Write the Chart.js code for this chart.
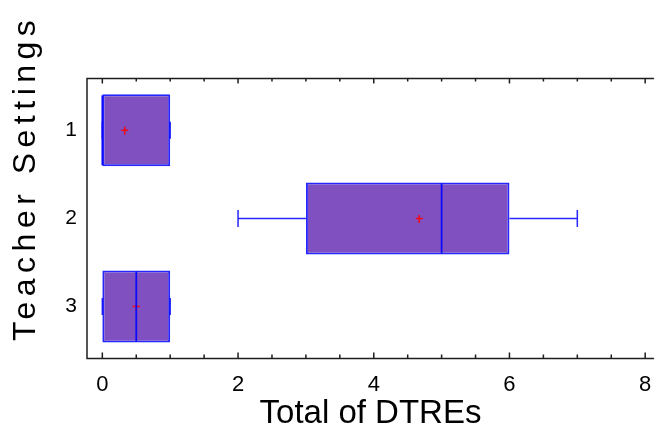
<!DOCTYPE html>
<html lang="en">
<head>
    <meta charset="UTF-8">
    <title>Total of DTREs by Teacher Settings</title>
    <script src="https://cdn.jsdelivr.net/npm/chart.js"></script>
    <style>
        body { margin: 0; background: #fff; overflow: hidden; }
        #wrap { width: 654px; height: 430px; }
    </style>
</head>
<body>
    <div id="wrap">
        <canvas id="boxChart"></canvas>
    </div>
    <script>
        // five-number summary + mean for each teacher setting
        const settings = [1, 2, 3];
        const whiskerLow = [0, 2, 0];
        const q1 = [0, 3, 0];
        const medians = [0, 5, 0.5];
        const q3 = [1, 6, 1];
        const whiskerHigh = [1, 7, 1];
        const means = [0.33, 4.67, 0.5];
        const xTicks = [0, 2, 4, 6, 8];

        const FONT = '"Liberation Sans", Arial, sans-serif';
        const BOX_FILL = '#8050c0';
        const BOX_LINE = 'rgba(0, 0, 255, 0.85)';

        // whiskers, means, medians, frame with inward ticks, spaced y title
        const boxExtras = {
            id: 'boxExtras',
            afterDatasetsDraw(chart) {
                const { ctx, chartArea: area, scales: { x, y } } = chart;
                const boxHalf = chart.getDatasetMeta(0).data[0].height / 2 - 1;
                ctx.save();

                ctx.strokeStyle = BOX_LINE;
                ctx.lineWidth = 1.5;
                settings.forEach((s, i) => {
                    const cy = y.getPixelForValue(s);
                    const lo = x.getPixelForValue(whiskerLow[i]);
                    const hi = x.getPixelForValue(whiskerHigh[i]);
                    ctx.beginPath();
                    ctx.moveTo(lo, cy);
                    ctx.lineTo(x.getPixelForValue(q1[i]), cy);
                    ctx.moveTo(x.getPixelForValue(q3[i]), cy);
                    ctx.lineTo(hi, cy);
                    ctx.moveTo(lo, cy - 8.5);
                    ctx.lineTo(lo, cy + 8.5);
                    ctx.moveTo(hi, cy - 8.5);
                    ctx.lineTo(hi, cy + 8.5);
                    ctx.stroke();
                });

                ctx.strokeStyle = 'rgba(255, 0, 0, 0.9)';
                ctx.lineWidth = 1.5;
                settings.forEach((s, i) => {
                    const cy = y.getPixelForValue(s);
                    const mx = x.getPixelForValue(means[i]);
                    ctx.beginPath();
                    ctx.moveTo(mx - 3.5, cy);
                    ctx.lineTo(mx + 3.5, cy);
                    ctx.moveTo(mx, cy - 3.5);
                    ctx.lineTo(mx, cy + 4.5);
                    ctx.stroke();
                });

                ctx.strokeStyle = '#0a0aff';
                ctx.lineWidth = 1.75;
                settings.forEach((s, i) => {
                    const cy = y.getPixelForValue(s);
                    const mx = x.getPixelForValue(medians[i]);
                    ctx.beginPath();
                    ctx.moveTo(mx, cy - boxHalf);
                    ctx.lineTo(mx, cy + boxHalf);
                    ctx.stroke();
                });

                // frame: left, top and bottom only
                ctx.strokeStyle = '#1e1e1e';
                ctx.lineWidth = 1.5;
                ctx.beginPath();
                ctx.moveTo(area.right, area.top);
                ctx.lineTo(area.left, area.top);
                ctx.lineTo(area.left, area.bottom);
                ctx.lineTo(area.right, area.bottom);
                ctx.stroke();

                // major ticks plus three minor ticks between each pair
                ctx.beginPath();
                xTicks.forEach((v, k) => {
                    const px = x.getPixelForValue(v);
                    ctx.moveTo(px, area.bottom);
                    ctx.lineTo(px, area.bottom - 6);
                    ctx.moveTo(px, area.top);
                    ctx.lineTo(px, area.top + 5);
                    if (k < xTicks.length - 1) {
                        const step = (xTicks[k + 1] - v) / 4;
                        for (let m = 1; m < 4; m++) {
                            const mp = x.getPixelForValue(v + m * step);
                            ctx.moveTo(mp, area.bottom);
                            ctx.lineTo(mp, area.bottom - 4);
                            ctx.moveTo(mp, area.top);
                            ctx.lineTo(mp, area.top + 3);
                        }
                    }
                });
                ctx.stroke();
                ctx.restore();
            },
            afterDraw(chart) {
                const ctx = chart.ctx;
                ctx.save();
                ctx.font = '32px ' + FONT;
                ctx.fillStyle = '#000';
                ctx.letterSpacing = '5.5px';
                ctx.textAlign = 'left';
                ctx.textBaseline = 'alphabetic';
                ctx.translate(35, 341);
                ctx.rotate(-Math.PI / 2);
                ctx.fillText('Teacher Settings', 0, 0);
                ctx.restore();
            }
        };

        const ctx = document.getElementById('boxChart').getContext('2d');
        const boxChart = new Chart(ctx, {
            type: 'bar',
            data: {
                datasets: [{
                    label: 'Q1 - Q3',
                    data: settings.map((s, i) => ({ y: s, x: [q1[i], q3[i]] })),
                    backgroundColor: BOX_FILL,
                    borderColor: BOX_LINE,
                    borderWidth: 2,
                    borderSkipped: false,
                    barPercentage: 0.817,
                    categoryPercentage: 1
                }]
            },
            options: {
                indexAxis: 'y',
                responsive: true,
                maintainAspectRatio: false,
                animation: false,
                layout: {
                    padding: { top: 78.5, right: 0, bottom: 0, left: 0 }
                },
                plugins: {
                    legend: { display: false },
                    tooltip: { enabled: false }
                },
                scales: {
                    x: {
                        type: 'linear',
                        min: -0.226,
                        max: 8.13,
                        afterBuildTicks: s => { s.ticks = xTicks.map(v => ({ value: v })); },
                        afterFit: s => {
                            s.height = 71.5;
                            s.paddingLeft = 0;
                            s.paddingRight = 0;
                        },
                        grid: { display: false, drawTicks: false },
                        border: { display: false },
                        ticks: {
                            color: '#000',
                            font: { family: FONT, size: 22 },
                            padding: 13,
                            maxRotation: 0
                        },
                        title: {
                            display: true,
                            text: 'Total of DTREs',
                            color: '#000',
                            font: { family: FONT, size: 33, lineHeight: 1 },
                            padding: 0
                        }
                    },
                    y: {
                        type: 'linear',
                        reverse: true,
                        offset: false,
                        min: 0.412,
                        max: 3.59,
                        afterBuildTicks: s => { s.ticks = settings.map(v => ({ value: v })); },
                        afterFit: s => { s.width = 87; },
                        grid: { display: false, drawTicks: false, offset: false },
                        border: { display: false },
                        ticks: {
                            color: '#000',
                            font: { family: FONT, size: 21 },
                            padding: 10
                        }
                    }
                }
            },
            plugins: [boxExtras]
        });
    </script>
</body>
</html>
